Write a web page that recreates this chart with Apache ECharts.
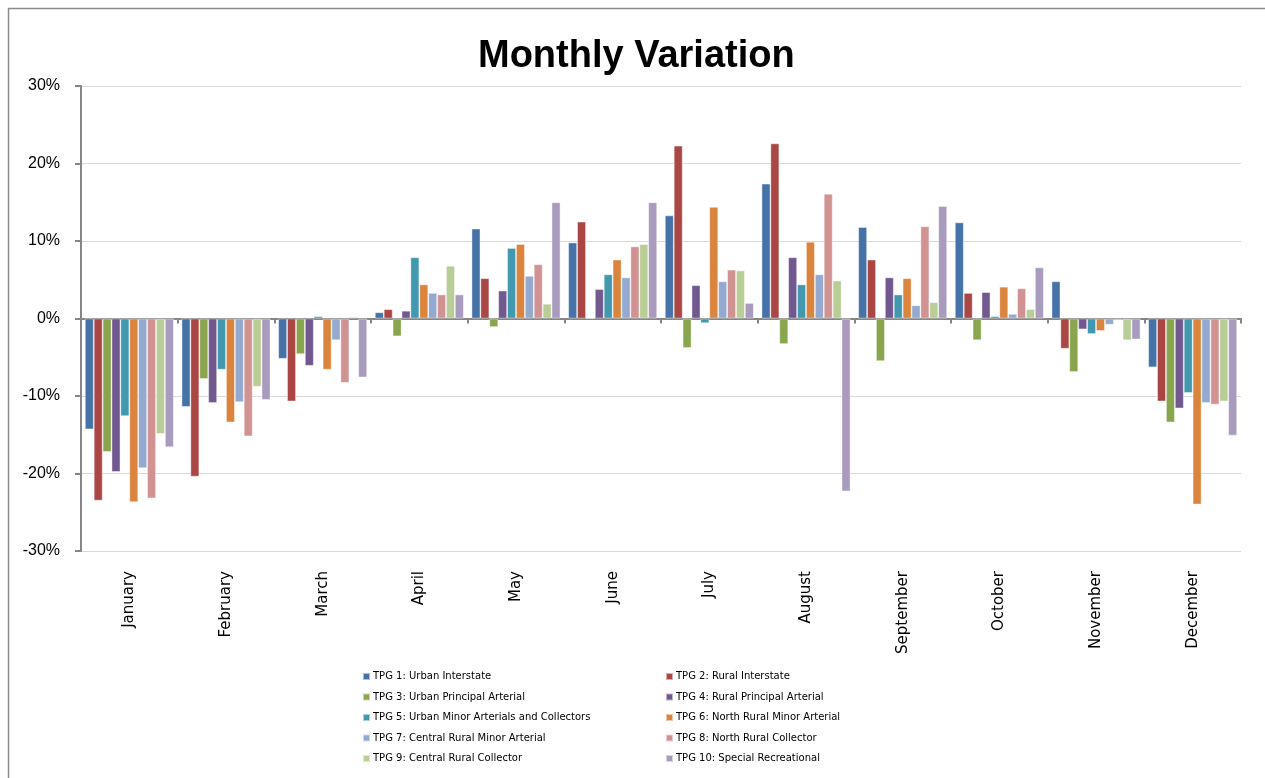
<!DOCTYPE html>
<html>
<head>
<meta charset="utf-8">
<script src="https://cdn.jsdelivr.net/npm/echarts@6/dist/echarts.min.js"></script>
<style>html,body{margin:0;padding:0;background:#fff;}#c{width:1265px;height:778px;}</style>
</head>
<body>
<div id="c"></div>
<script>
var months = ['January','February','March','April','May','June','July','August','September','October','November','December'];
var seriesNames = ['TPG 1: Urban Interstate','TPG 2: Rural Interstate','TPG 3: Urban Principal Arterial','TPG 4: Rural Principal Arterial','TPG 5: Urban Minor Arterials and Collectors','TPG 6: North Rural Minor Arterial','TPG 7: Central Rural Minor Arterial','TPG 8: North Rural Collector','TPG 9: Central Rural Collector','TPG 10: Special Recreational'];
var colors = ['#4572A7','#AA4643','#89A54E','#71588F','#4198AF','#DB843D','#93A9CF','#D19392','#B9CD96','#A99BBD'];
var yTicks = [-30,-20,-10,0,10,20,30];

var tpg1  = [-14.3,-11.4,-5.2, 0.8,11.6, 9.8,13.3,17.4,11.8,12.4, 4.8, -6.3];
var tpg2  = [-23.5,-20.4,-10.7,1.2, 5.2,12.5,22.3,22.6, 7.6, 3.3,-3.9,-10.7];
var tpg3  = [-17.2,-7.8,-4.6,-2.3,-1.1, 0.0,-3.8,-3.3,-5.5,-2.8,-6.9,-13.4];
var tpg4  = [-19.8,-10.9,-6.1,1.0, 3.6, 3.8, 4.3, 7.9, 5.3, 3.4,-1.4,-11.6];
var tpg5  = [-12.6,-6.6, 0.3, 7.9, 9.1, 5.7,-0.6, 4.4, 3.1, 0.3,-2.0,-9.6];
var tpg6  = [-23.7,-13.4,-6.6,4.4, 9.6, 7.6,14.4, 9.9, 5.2, 4.1,-1.6,-24.0];
var tpg7  = [-19.3,-10.8,-2.8,3.3, 5.5, 5.3, 4.8, 5.7, 1.7, 0.6,-0.8,-10.9];
var tpg8  = [-23.2,-15.2,-8.3,3.1, 7.0, 9.3, 6.3,16.1,11.9, 3.9,-0.2,-11.1];
var tpg9  = [-14.9,-8.8, 0.2, 6.8, 1.9, 9.6, 6.2, 4.9, 2.1, 1.2,-2.8,-10.7];
var tpg10 = [-16.6,-10.5,-7.6,3.1,15.0,15.0, 2.0,-22.3,14.5, 6.6,-2.7,-15.1];
var allData = [tpg1,tpg2,tpg3,tpg4,tpg5,tpg6,tpg7,tpg8,tpg9,tpg10];

var chart = echarts.init(document.getElementById('c'), null, {renderer:'canvas'});
var series = allData.map(function(d,i){
  return {
    name: seriesNames[i], type:'bar', data:d, xAxisIndex:0, yAxisIndex:0,
    barGap:'0%', barCategoryGap:'8%',
    itemStyle:{color:colors[i], borderColor:'rgba(255,255,255,0.55)', borderWidth:0.8},
    emphasis:{disabled:true}, animation:false
  };
});
var legendText = {fontFamily:'DejaVu Sans', fontSize:10, color:'#000', lineHeight:14, padding:[0,0,0,-2]};
var option = {
  animation:false,
  backgroundColor:'#fff',
  color: colors,
  title:{text:'Monthly Variation', left:473, top:33,
    textStyle:{fontFamily:'Liberation Sans', fontWeight:'bold', fontSize:38, color:'#000'}},
  graphic:[{type:'rect', shape:{x:8.5,y:8.5,width:1300,height:800}, style:{fill:'none', stroke:'#8c8c8c', lineWidth:1.5}, silent:true, z:-1}],
  legend:[
    {data:seriesNames.filter(function(n,i){return i%2===0;}), orient:'vertical', left:357, top:664.5,
     itemWidth:7, itemHeight:7, itemGap:6.5, icon:'rect', textStyle:legendText, selectedMode:false},
    {data:seriesNames.filter(function(n,i){return i%2===1;}), orient:'vertical', left:660, top:664.5,
     itemWidth:7, itemHeight:7, itemGap:6.5, icon:'rect', textStyle:legendText, selectedMode:false}
  ],
  grid:{left:81, right:24, top:86, bottom:227, containLabel:false},
  xAxis:[
    {type:'category', data:months, axisLine:{onZero:true, lineStyle:{color:'#868686', width:2}},
     axisTick:{show:true, length:5, lineStyle:{color:'#868686', width:2}}, axisLabel:{show:false}, splitLine:{show:false}},
    {type:'category', data:months, position:'bottom', axisLine:{show:false}, axisTick:{show:false}, splitLine:{show:false},
     axisLabel:{rotate:90, margin:20, fontFamily:'DejaVu Sans', fontSize:15, color:'#000', interval:0}}
  ],
  yAxis:[{type:'value', min:yTicks[0], max:yTicks[yTicks.length-1], interval:10,
    axisLine:{show:true, lineStyle:{color:'#868686', width:2}},
    axisTick:{show:true, length:6, lineStyle:{color:'#868686', width:2}},
    splitLine:{show:true, lineStyle:{color:'#d9d9d9', width:1}},
    axisLabel:{formatter:'{value}%', margin:21, fontFamily:'Liberation Sans', fontSize:16, color:'#000'}}],
  series: series
};
chart.setOption(option);
</script>
</body>
</html>
